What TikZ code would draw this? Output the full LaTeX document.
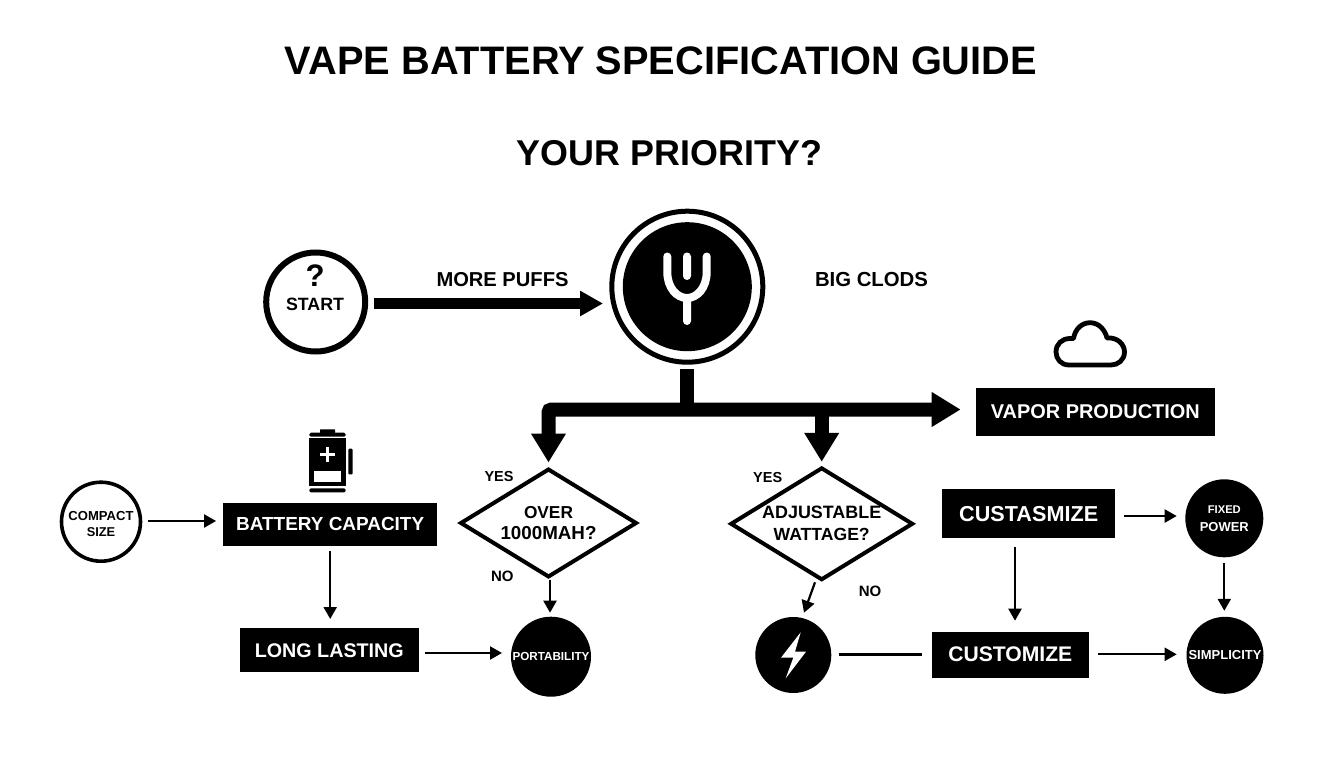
\documentclass[tikz,border=0pt]{standalone}
\usepackage{fontspec}
\usepackage{graphicx}
\setmainfont{Liberation Sans}
\usetikzlibrary{arrows.meta,calc,shapes.geometric}
\newcommand{\T}[2]{\resizebox{#1pt}{!}{\bfseries\fontsize{20}{24}\selectfont #2}}
\tikzset{
  x=1pt,y=-1pt,
  every node/.style={inner sep=0pt,outer sep=0pt},
  txt/.style={text=black,align=center},
  wtxt/.style={text=white,align=center},
  blackbox/.style={rectangle,fill=black,text=white,align=center},
  ringc/.style={circle,draw=black,fill=white,text=black,align=center},
  solidc/.style={circle,fill=black,text=white,align=center},
  dec/.style={diamond,draw=black,fill=white,line width=4pt,aspect=1.6,text=black,align=center},
  thinarrow/.style={draw=black,line width=2.2pt,-{Triangle[length=12pt,width=13pt]}},
  fat/.style={draw=black,line width=14pt},
  fatarrow/.style={draw=black,line width=14pt,-{Triangle[length=29pt,width=33pt]}},
  fatboth/.style={draw=black,line width=14pt,{Triangle[length=29pt,width=33pt]}-{Triangle[length=29pt,width=33pt]}},
}
\begin{document}
\begin{tikzpicture}
\useasboundingbox (0,0) rectangle (1344,768);
\node[txt] (title) at (661,61) {\T{752}{VAPE BATTERY SPECIFICATION GUIDE}};
\node[txt] (prio) at (669.5,153) {\T{305}{YOUR PRIORITY?}};

% top row
\node[ringc,line width=6pt,minimum size=99pt] (start) at (315.7,302) {};
\node[txt] (qm) at (315,276) {\T{19}{?}};
\node[txt] (starttxt) at (315,304) {\T{58}{START}};
\node[circle,draw=black,line width=5pt,minimum size=151pt] (hub) at (687.3,286.7) {};
\node[solidc,minimum size=129pt] (hubcore) at (687.3,286.7) {};
\draw[white,line width=8pt,line cap=round]
  (667.3,256.5) -- (667.3,272) .. controls (667.3,288) and (677,298) .. (687,298)
  .. controls (697,298) and (706.7,288) .. (706.7,272) -- (706.7,256.5)
  (687,256.5) -- (687,276)
  (687,298) -- (687,321);
\node[txt] (puffs) at (502.5,279.3) {\T{132}{MORE PUFFS}};
\node[txt] (clods) at (871.5,279.3) {\T{113}{BIG CLODS}};
\draw[draw=black,line width=11pt,-{Triangle[length=23pt,width=24pt]}]
  ($(start.east)+(8.8,1.5)$) -- ($(hub.west)+(-8.8,16.8)$);

% cloud
\draw[black,line width=4.8pt,line join=round,fill=white]
  (1069,365) .. controls (1061,365) and (1056,359) .. (1056,352)
  .. controls (1056,344) and (1062,338.5) .. (1070,338.5) -- (1073.5,338.5)
  .. controls (1075,329) and (1082,322.7) .. (1090,322.7)
  .. controls (1099,322.7) and (1105,330) .. (1107,338)
  .. controls (1117,337) and (1124.5,344) .. (1124.5,352)
  .. controls (1124.5,360) and (1118,365) .. (1111,365) -- cycle;

% boxes
\node[blackbox,minimum width=239.3pt,minimum height=47.7pt] (vapor) at (1095.3,411.8) {\T{209}{VAPOR PRODUCTION}};
\node[blackbox,minimum width=214.3pt,minimum height=43pt] (bat) at (330.2,524.2) {\T{188}{BATTERY CAPACITY}};
\node[blackbox,minimum width=179.3pt,minimum height=44pt] (long) at (329.3,650.3) {\T{149}{LONG LASTING}};
\node[blackbox,minimum width=172.7pt,minimum height=48.7pt] (custa) at (1028.7,513.7) {\T{139}{CUSTASMIZE}};
\node[blackbox,minimum width=156.7pt,minimum height=46pt] (custo) at (1010.3,654.7) {\T{124}{CUSTOMIZE}};

% circles
\node[ringc,line width=3.6pt,minimum size=79pt,
  label={[txt,yshift=-2.2pt,font=\fontsize{20}{16.5}\selectfont]center:\T{65}{COMPACT}\\\T{28.5}{SIZE}}] (compact) at (101,521.7) {};
\node[solidc,minimum size=80pt] (port) at (551,656.7) {\T{77}{PORTABILITY}};
\node[solidc,minimum size=76pt] (bolt) at (793.3,655) {};
\fill[white] (800.7,632.3) -- (781,657.7) -- (793.3,657.7) -- (785.7,678.3) -- (806,651.7) -- (795,651.7) -- cycle;
\node[solidc,minimum size=78pt,
  label={[wtxt,yshift=-0.8pt,font=\fontsize{20}{18}\selectfont]center:\T{33}{FIXED}\\\T{49}{POWER}}] (fixed) at (1224.3,518.3) {};
\node[solidc,minimum size=77pt] (simp) at (1225,655.3) {\T{73}{SIMPLICITY}};

% decisions
\node[dec,minimum width=175pt,minimum height=107pt,
  label={[txt,font=\fontsize{20}{21.7}\selectfont]center:\T{49}{OVER}\\\T{96}{1000MAH?}}] (d1) at (548.5,523) {};
\node[dec,minimum width=181pt,minimum height=111pt,
  label={[txt,font=\fontsize{20}{22}\selectfont]center:\T{119}{ADJUSTABLE}\\\T{96}{WATTAGE?}}] (d2) at (821.7,523.8) {};
\node[txt] (y1) at (499,477) {\T{29}{YES}};
\node[txt] (n1) at (502.3,576.7) {\T{22.5}{NO}};
\node[txt] (y2) at (767.7,478) {\T{29}{YES}};
\node[txt] (n2) at (870,591) {\T{22.5}{NO}};

% fat connectors
\coordinate (jn) at (687.3,409.5);
\draw[fat] ($(hub.south)+(0,7)$) -- (jn);
\draw[fatboth,rounded corners=3pt] ($(d1.north)+(0,-7)$) |- ($(vapor.west)+(-15,-2.3)$);
\draw[fatarrow] ($(jn -| d2.north)+(0,-7)$) -- ($(d2.north)+(0,-6.5)$);

% thin connectors
\draw[thinarrow] ($(compact.east)+(7.5,-0.7)$) -- ($(bat.west)+(-7,-3.2)$);
\draw[thinarrow] ($(bat.south)+(0,5.3)$) -- ($(long.north)+(0.9,-9.3)$);
\draw[thinarrow] ($(long.east)+(6,2.7)$) -- ($(port.west)+(-9,-3.7)$);
\draw[thinarrow] ($(d1.south)+(1.5,3)$) -- ($(port.north)+(-1,-4)$);
\draw[thinarrow] ($(d2.south)+(-6.7,3)$) -- ($(bolt.north)+(10.7,-4.3)$);
\draw[black,line width=3pt] ($(bolt.east)+(7.4,-1)$) -- ($(custo.west)+(-10,-0.7)$);
\draw[thinarrow] ($(custa.east)+(8.7,2.3)$) -- ($(fixed.west)+(-8.6,-2.3)$);
\draw[thinarrow] ($(custa.south)+(-13.7,9.3)$) -- ($(custo.north)+(4.7,-11)$);
\draw[thinarrow] ($(fixed.south)+(0,5.7)$) -- ($(simp.north)+(-0.7,-6)$);
\draw[thinarrow] ($(custo.east)+(9,-0.4)$) -- ($(simp.west)+(-9.8,-1)$);

% battery icon
\fill[black,rounded corners=0.5pt] (320,429.3) rectangle (335,434);
\fill[black,rounded corners=1.5pt] (309.3,432.7) rectangle (345.7,436.7);
\fill[black] (309.3,438.3) rectangle (345.7,485.7);
\fill[black,rounded corners=1.5pt] (309.3,488.3) rectangle (345.7,492.3);
\fill[black,rounded corners=1pt] (348.3,448.7) rectangle (352.7,474.3);
\fill[white] (314.3,471) rectangle (341,481.7);
\fill[white] (319.7,452.8) rectangle (335,455.8);
\fill[white] (325.8,446.6) rectangle (328.8,462);
\end{tikzpicture}
\end{document}
